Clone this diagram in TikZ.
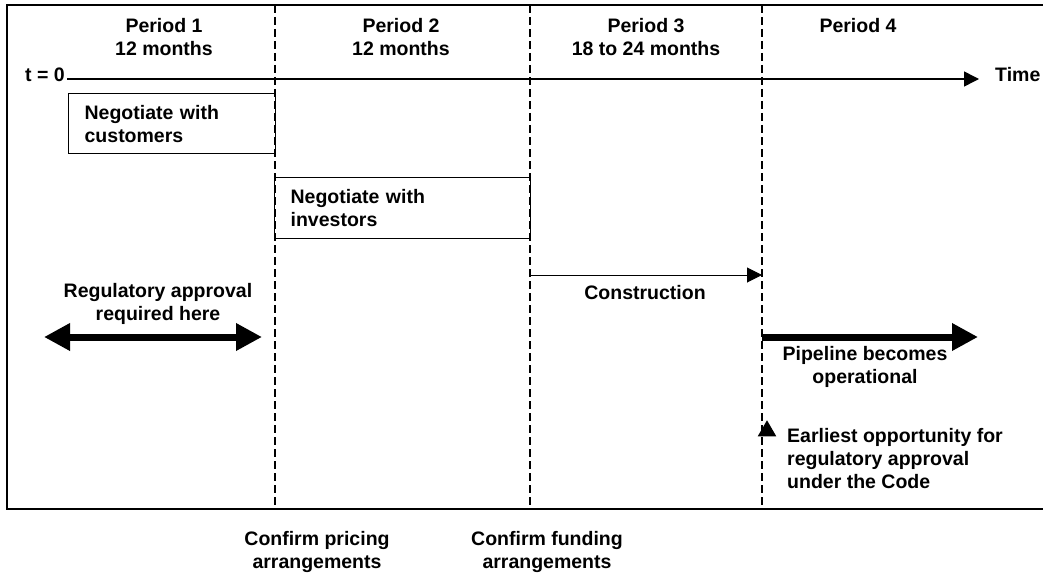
\documentclass[tikz,border=0pt]{standalone}
\usepackage{fontspec}
\setmainfont{Liberation Sans}
\usepackage{tikz}
\usetikzlibrary{arrows.meta}
\usetikzlibrary{shapes.geometric}
\tikzset{l/.style={font=\fontsize{19.5}{23}\selectfont\bfseries, inner sep=0pt, align=center}}
\tikzset{bx/.style={l, draw, line width=1.3pt, align=left, inner xsep=16pt, anchor=north west}}
\tikzset{per/.style={line width=1.1pt, dash pattern=on 8pt off 4pt}}
\tikzset{big/.tip={Triangle[length=26pt,width=26pt]}}
\tikzset{sm/.tip={Triangle[length=15pt,width=15pt]}}

\begin{document}
\begin{tikzpicture}[x=1pt,y=-1pt]
        \useasboundingbox (0,0) rectangle (1043,575);
        % frame, open on the right
        \draw [line width=1.6pt] (1043,5) -| (7,509) -- (1043,509);
        \foreach \x/\n in {275/a,530/b,762/c} {
          \coordinate (top\n) at (\x,5);
          \coordinate (bot\n) at (\x,509);
          \draw [per] (top\n) -- (bot\n);
        }
        % periods and time axis
        \node [l] (p1) at (164,37) {Period 1\\12 months};
        \node [l] (p2) at (401,37) {Period 2\\12 months};
        \node [l] (p3) at (646,37) {Period 3\\18 to 24 months};
        \node [l] (p4) at (858,26) {Period 4};
        \node [l, anchor=east] (t0) at (65,75) {t = 0};
        \node [l, anchor=west] (time) at (995,75) {Time};
        \coordinate (ts) at (67,79);
        \coordinate (te) at (979,79);
        \draw [-sm, line width=1.5pt] (ts) -- (te);
        % negotiations
        \node [bx, minimum width=207pt, minimum height=60pt, text width=175pt] (cust) at (68,93) {Negotiate with\\customers};
        \node [bx, minimum width=256pt, minimum height=61pt, text width=224pt] (inv) at (274,177) {Negotiate with\\investors};
        % construction
        \coordinate (cs) at (530,275);
        \coordinate (ce) at (762,275);
        \draw [-sm, line width=1pt] (cs) -- (ce);
        \node [l] (cons) at (645,293) {Construction};
        % regulatory approval
        \node [l] (reg) at (158,304) {Regulatory approval\\required here};
        \coordinate (rl) at (44,337);
        \coordinate (rr) at (262,337);
        \draw [big-big, line width=7pt] (rl) -- (rr);
        % operation
        \coordinate (ps) at (762,337);
        \coordinate (pe) at (978,337);
        \draw [-big, line width=7pt] (ps) -- (pe);
        \node [l] (pipe) at (865,367) {Pipeline becomes\\operational};
        \node [regular polygon, regular polygon sides=3, fill, inner sep=0pt, minimum size=21.5pt] (tri) at (767,431) {};
        \node [l, align=left, anchor=west] (earl) at (787,459) {Earliest opportunity for\\regulatory approval\\under the Code};
        % milestones
        \node [l] (price) at (317,552) {Confirm pricing\\arrangements};
        \node [l] (fund) at (547,552) {Confirm funding\\arrangements};
      \end{tikzpicture}
\end{document}
